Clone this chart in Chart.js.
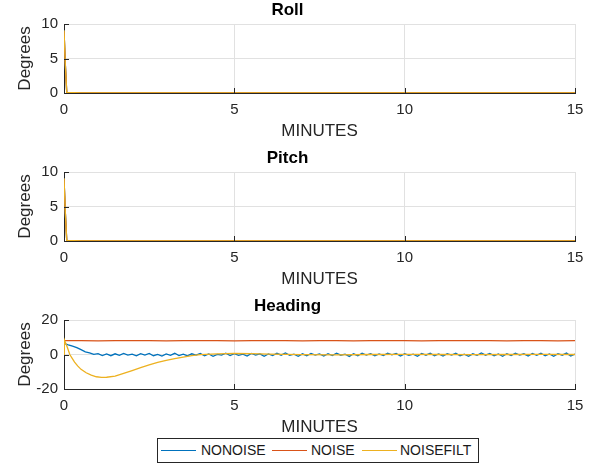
<!DOCTYPE html>
<html>
<head>
<meta charset="utf-8">
<script src="https://cdn.jsdelivr.net/npm/chart.js@4.4.1/dist/chart.umd.min.js"></script>
<style>
  body { margin: 0; background: #fff; font-family: "Liberation Sans", Arial, sans-serif; }
  #wrap { position: relative; width: 595px; height: 468px; }
  #wrap canvas { position: absolute; left: 0; }
  #legend { position: absolute; left: 157px; top: 438px; width: 320px; height: 23px;
            border: 1px solid #262626; background: #fff; font-size: 14px; color: #1a1a1a; }
  #legend span { position: absolute; top: 3px; line-height: 17px; }
  #legend i { position: absolute; top: 11px; width: 35px; height: 0; border-top: 1px solid; }
</style>
</head>
<body>
<div id="wrap">
  <canvas id="rollChart" width="595" height="148" style="top:0"></canvas>
  <canvas id="pitchChart" width="595" height="148" style="top:148px"></canvas>
  <canvas id="headChart" width="595" height="148" style="top:296px"></canvas>
  <div id="legend">
    <i style="left:3px;border-color:#0072BD"></i><span style="left:43px">NONOISE</span>
    <i style="left:114px;border-color:#D95319"></i><span style="left:153px">NOISE</span>
    <i style="left:204px;border-color:#EDB120"></i><span style="left:242px">NOISEFILT</span>
  </div>
</div>
<script>
// drie subplots (Roll, Pitch, Heading) tegen tijd in minuten
var SERIES = ['NONOISE', 'NOISE', 'NOISEFILT'];
var COLORS = { NONOISE: '#0072BD', NOISE: '#D95319', NOISEFILT: '#EDB120' };

// Roll: piek bij t=0, daarna vlak
var rollT         = [0, 0.04, 0.08, 0.5, 2, 4, 6, 8, 10, 12, 14, 15];
var rollNonoise   = [9.1, 4.0, 0.1, 0, 0, 0, 0, 0, 0, 0, 0, 0];
var rollNoise     = [9.0, 4.1, 0.1, 0.02, 0, 0.02, 0, 0.01, 0, 0.02, 0, 0];
var rollNoisefilt = [9.1, 4.0, 0.1, 0, 0, 0, 0, 0, 0, 0, 0, 0];

// Pitch
var pitchT         = [0, 0.04, 0.08, 0.5, 2, 4, 6, 8, 10, 12, 14, 15];
var pitchNonoise   = [9.1, 4.0, 0.1, 0, 0, 0, 0, 0, 0, 0, 0, 0];
var pitchNoise     = [9.0, 4.1, 0.1, 0.02, 0, 0.02, 0, 0.01, 0, 0.02, 0, 0];
var pitchNoisefilt = [9.1, 4.0, 0.1, 0, 0, 0, 0, 0, 0, 0, 0, 0];

// Heading NONOISE, bemonsterd elke 0.125 min (één rij per minuut)
var HEAD_DT = 0.125;
var headNonoise = [
  6.5, 5.6, 4.9, 4.0, 2.8, 1.5, 1.0, 0.1,
  0.5, -0.6, 0.3, -0.7, 0.4, -0.5, 0.6, -0.4,
  0.2, -0.8, 0.5, -0.3, 0.6, -0.7, 0.1, -0.9,
  0.3, -0.5, 0.7, -0.6, 0.2, -0.8, 0.4, -0.3,
  0.6, -0.7, 0.3, -1.0, 0.1, -0.4, 0.8, -0.6,
  0.5, -0.5, 0.2, -0.9, 0.6, -0.3, 0.4, -1.0,
  0.3, -0.6, 0.7, -0.4, 0.9, -0.5, 0.2, -1.0,
  0.4, -0.7, 0.6, -0.3, 0.3, -0.9, 0.5, -0.6,
  0.8, -0.4, 0.2, -1.1, 0.4, -0.7, 0.7, -0.3,
  0.5, -0.8, 0.3, -0.6, 0.8, -0.2, 0.6, -0.9,
  0.4, -0.5, 0.2, -1.0, 0.6, -0.4, 0.8, -0.7,
  0.3, -0.9, 0.5, -0.3, 0.7, -0.8, 0.2, -1.0,
  0.4, -0.5, 0.9, -0.4, 0.6, -0.8, 0.3, -1.0,
  0.5, -0.6, 0.8, -0.3, 0.4, -0.9, 0.6, -0.5,
  0.7, -0.8, 0.3, -1.0, 0.5, -0.4, 0.8, -0.9,
  0.3
];

// Heading NOISE
var headNoiseT = [0, 0.5, 1, 1.5, 2, 2.5, 3, 3.5, 4, 4.5, 5, 5.5, 6, 6.5, 7, 7.5,
                  8, 8.5, 9, 9.5, 10, 10.5, 11, 11.5, 12, 12.5, 13, 13.5, 14, 14.5, 15];
var headNoise  = [8.0, 8.1, 7.9, 8.0, 8.1, 8.0, 7.9, 8.0, 8.1, 8.0, 7.9, 8.1, 8.0, 8.0, 7.9, 8.1,
                  8.0, 7.9, 8.0, 8.1, 8.0, 7.9, 8.0, 8.1, 8.0, 8.0, 7.9, 8.1, 8.0, 7.9, 8.0];

// Heading NOISEFILT
var headFiltT = [0, 0.01, 0.1, 0.17, 0.25, 0.31, 0.4, 0.5, 0.65, 0.8, 0.95, 1.1, 1.25, 1.5, 1.75,
                 2, 2.25, 2.5, 2.75, 3, 3.25, 3.5, 3.75, 4, 4.5, 5, 5.5, 6, 7, 8, 9, 10, 11, 12, 13, 14, 15];
var headFilt  = [0, 8.5, 4.0, 0.0, -2.5, -4.4, -6.6, -8.6, -10.6, -12.0, -12.9, -13.3, -13.2, -12.6, -11.0,
                 -9.3, -7.6, -6.0, -4.6, -3.4, -2.4, -1.5, -0.7, -0.1, 0.4, 0.6, 0.5, 0.2, -0.1, -0.2, 0.0, 0.1, 0.0, -0.1, 0.0, 0.1, 0.0];

var headT = headNonoise.map(function (v, i) { return i * HEAD_DT; });

function pts(t, v) { return t.map(function (x, i) { return { x: x, y: v[i] }; }); }

var FONT = 'Liberation Sans, Arial, sans-serif';
var INK = '#262626';
var GRID = '#e1e1e1';

// MATLAB-achtige tickstreepjes naar binnen
var innerTicks = {
  id: 'innerTicks',
  afterDraw: function (chart) {
    var ctx = chart.ctx, a = chart.chartArea, sx = chart.scales.x, sy = chart.scales.y;
    ctx.save();
    ctx.strokeStyle = INK; ctx.lineWidth = 1;
    ctx.beginPath();
    sx.ticks.forEach(function (t) {
      var px = Math.round(sx.getPixelForValue(t.value)) + 0.5;
      ctx.moveTo(px, a.bottom); ctx.lineTo(px, a.bottom - 5);
    });
    sy.ticks.forEach(function (t) {
      var py = Math.round(sy.getPixelForValue(t.value)) + 0.5;
      ctx.moveTo(a.left, py); ctx.lineTo(a.left + 5, py);
    });
    ctx.stroke();
    ctx.restore();
  }
};

function makeChart(id, title, yMin, yMax, yStep, series) {
  var datasets = series.map(function (s, i) {
    var c = COLORS[SERIES[i]];
    return {
      label: SERIES[i],
      data: pts(s[0], s[1]),
      borderColor: c,
      backgroundColor: c,
      borderWidth: 1.3,
      pointRadius: 0,
      tension: 0,
      order: 3 - i
    };
  });
  return new Chart(document.getElementById(id), {
    type: 'line',
    data: { datasets: datasets },
    plugins: [innerTicks],
    options: {
      responsive: false,
      animation: false,
      devicePixelRatio: 1,
      layout: { padding: { left: 0, right: 20, top: 0, bottom: 0 } },
      plugins: {
        legend: { display: false },
        tooltip: { enabled: false },
        title: {
          display: true, text: title, color: '#000',
          font: { family: FONT, size: 17, weight: 'bold' },
          padding: { top: 0, bottom: 3.6 }
        }
      },
      scales: {
        x: {
          type: 'linear', min: 0, max: 15,
          afterFit: function (s) { s.height = 55; },
          ticks: { stepSize: 5, color: INK, padding: 8, maxRotation: 0, font: { family: FONT, size: 15 } },
          grid: { color: GRID, drawTicks: false },
          border: { color: INK, width: 1 },
          title: { display: true, text: 'MINUTES', color: INK, padding: { top: 0, bottom: 6 },
                   font: { family: FONT, size: 17 } }
        },
        y: {
          min: yMin, max: yMax,
          afterFit: function (s) { s.width = 64; },
          ticks: { stepSize: yStep, color: INK, padding: 6, font: { family: FONT, size: 15 } },
          grid: { color: GRID, drawTicks: false },
          border: { color: INK, width: 1 },
          title: { display: true, text: 'Degrees', color: INK, padding: { top: 15, bottom: 0 },
                   font: { family: FONT, size: 17 } }
        }
      }
    }
  });
}

makeChart('rollChart', 'Roll', 0, 10, 5,
  [[rollT, rollNonoise], [rollT, rollNoise], [rollT, rollNoisefilt]]);
makeChart('pitchChart', 'Pitch', 0, 10, 5,
  [[pitchT, pitchNonoise], [pitchT, pitchNoise], [pitchT, pitchNoisefilt]]);
makeChart('headChart', 'Heading', -20, 20, 20,
  [[headT, headNonoise], [headNoiseT, headNoise], [headFiltT, headFilt]]);
</script>
</body>
</html>
